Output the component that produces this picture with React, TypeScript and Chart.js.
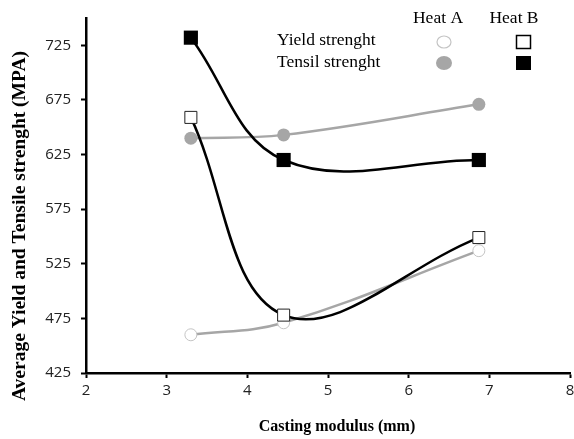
import React, { useEffect, useRef } from 'react';
import { Chart, registerables } from 'chart.js';
Chart.register(...registerables);

const castingModulus = [3.3, 4.45, 6.87];
const yieldHeatA = [460, 471, 537];
const tensileHeatA = [640, 643, 671];
const yieldHeatB = [659, 478, 549];
const tensileHeatB = [732, 620, 620];
const yTicks = [425, 475, 525, 575, 625, 675, 725];
const xTicks = [2, 3, 4, 5, 6, 7, 8];
const legendCols = ['Heat A', 'Heat B'];
const legendRows = ['Yield strenght', 'Tensil strenght'];
const xTitle = 'Casting modulus (mm)';
const yTitle = 'Average Yield and Tensile strenght (MPA)';

const GRAY = '#a6a6a6';
const LIGHT = '#c4c4c4';
const TENSION = 0.38;

const pts = (ys: number[]) => ys.map((y, i) => ({ x: castingModulus[i], y }));

const overlay = {
  id: 'overlay',
  afterDraw(chart: any) {
    const ctx = chart.ctx as CanvasRenderingContext2D;
    ctx.save();
    ctx.fillStyle = '#000';
    ctx.font = 'bold 16px "Liberation Serif"';
    ctx.textAlign = 'center';
    ctx.textBaseline = 'middle';
    ctx.fillText(xTitle, 337, 427);
    ctx.save();
    ctx.translate(20, 226);
    ctx.rotate(-Math.PI / 2);
    ctx.font = 'bold 19.5px "Liberation Serif"';
    ctx.fillText(yTitle, 0, 0);
    ctx.restore();
    // legend
    ctx.font = '17.5px "Liberation Serif"';
    ctx.textAlign = 'center';
    ctx.fillText(legendCols[0], 438, 18);
    ctx.fillText(legendCols[1], 514, 18);
    ctx.textAlign = 'left';
    ctx.fillText(legendRows[0], 277, 40);
    ctx.fillText(legendRows[1], 277, 62);
    ctx.lineWidth = 1.2;
    ctx.strokeStyle = LIGHT;
    ctx.fillStyle = '#fff';
    ctx.beginPath();
    ctx.ellipse(444, 42, 7, 6, 0, 0, Math.PI * 2);
    ctx.fill();
    ctx.stroke();
    ctx.fillStyle = GRAY;
    ctx.beginPath();
    ctx.ellipse(444, 63, 8, 7, 0, 0, Math.PI * 2);
    ctx.fill();
    ctx.strokeStyle = '#000';
    ctx.lineWidth = 1.5;
    ctx.strokeRect(516.5, 35.5, 14, 13);
    ctx.fillStyle = '#000';
    ctx.fillRect(516, 56, 15, 14);
    ctx.restore();
  },
};

export default function App() {
  const ref = useRef<HTMLCanvasElement>(null);
  useEffect(() => {
    document.body.style.margin = '0';
    const chart = new Chart(ref.current!, {
      type: 'line',
      data: {
        datasets: [
          {
            label: 'Tensil strenght Heat B',
            data: pts(tensileHeatB),
            borderColor: '#000',
            backgroundColor: '#000',
            borderWidth: 2.5,
            pointStyle: 'rect',
            pointRadius: 10,
            pointBorderWidth: 0,
            tension: TENSION,
            order: 1,
          },
          {
            label: 'Yield strenght Heat B',
            data: pts(yieldHeatB),
            borderColor: '#000',
            backgroundColor: '#fff',
            pointBorderColor: '#222',
            borderWidth: 2.5,
            pointStyle: 'rect',
            pointRadius: 8.5,
            pointBorderWidth: 1,
            tension: TENSION,
            order: 2,
          },
          {
            label: 'Tensil strenght Heat A',
            data: pts(tensileHeatA),
            borderColor: GRAY,
            backgroundColor: GRAY,
            borderWidth: 2.5,
            pointStyle: 'circle',
            pointRadius: 6.5,
            pointBorderWidth: 0,
            tension: TENSION,
            order: 3,
          },
          {
            label: 'Yield strenght Heat A',
            data: pts(yieldHeatA),
            borderColor: GRAY,
            backgroundColor: '#fff',
            pointBorderColor: LIGHT,
            borderWidth: 2.5,
            pointStyle: 'circle',
            pointRadius: 6,
            pointBorderWidth: 1,
            tension: TENSION,
            order: 4,
          },
        ],
      },
      options: {
        animation: false,
        responsive: true,
        maintainAspectRatio: false,
        layout: { autoPadding: false, padding: { top: 18, right: 4, left: 0, bottom: 0 } },
        plugins: { legend: { display: false }, tooltip: { enabled: false } },
        scales: {
          x: {
            type: 'linear',
            min: 2,
            max: 8,
            afterBuildTicks: (s: any) => {
              s.ticks = xTicks.map((v) => ({ value: v }));
            },
            afterFit: (s: any) => {
              s.height = 66;
              s.paddingRight = 0;
              s.paddingLeft = 0;
            },
            grid: { drawOnChartArea: false, tickLength: 5, tickColor: '#000', tickWidth: 2 },
            border: { color: '#000', width: 2.5 },
            ticks: { color: '#222', font: { family: 'Open Sans', size: 15 }, padding: 4, maxRotation: 0 },
          },
          y: {
            type: 'linear',
            min: 425,
            max: 750,
            afterBuildTicks: (s: any) => {
              s.ticks = yTicks.map((v) => ({ value: v }));
            },
            afterFit: (s: any) => {
              s.width = 86;
              s.paddingTop = 0;
              s.paddingBottom = 0;
            },
            grid: { drawOnChartArea: false, tickLength: 5, tickColor: '#000', tickWidth: 2 },
            border: { color: '#000', width: 2.5 },
            ticks: { color: '#222', font: { family: 'Open Sans', size: 15 }, padding: 10 },
          },
        },
      },
      plugins: [overlay],
    });
    return () => chart.destroy();
  }, []);
  return (
    <div style={{ position: 'fixed', left: 0, top: 0, width: 574, height: 439, background: '#fff' }}>
      <canvas ref={ref} />
    </div>
  );
}
